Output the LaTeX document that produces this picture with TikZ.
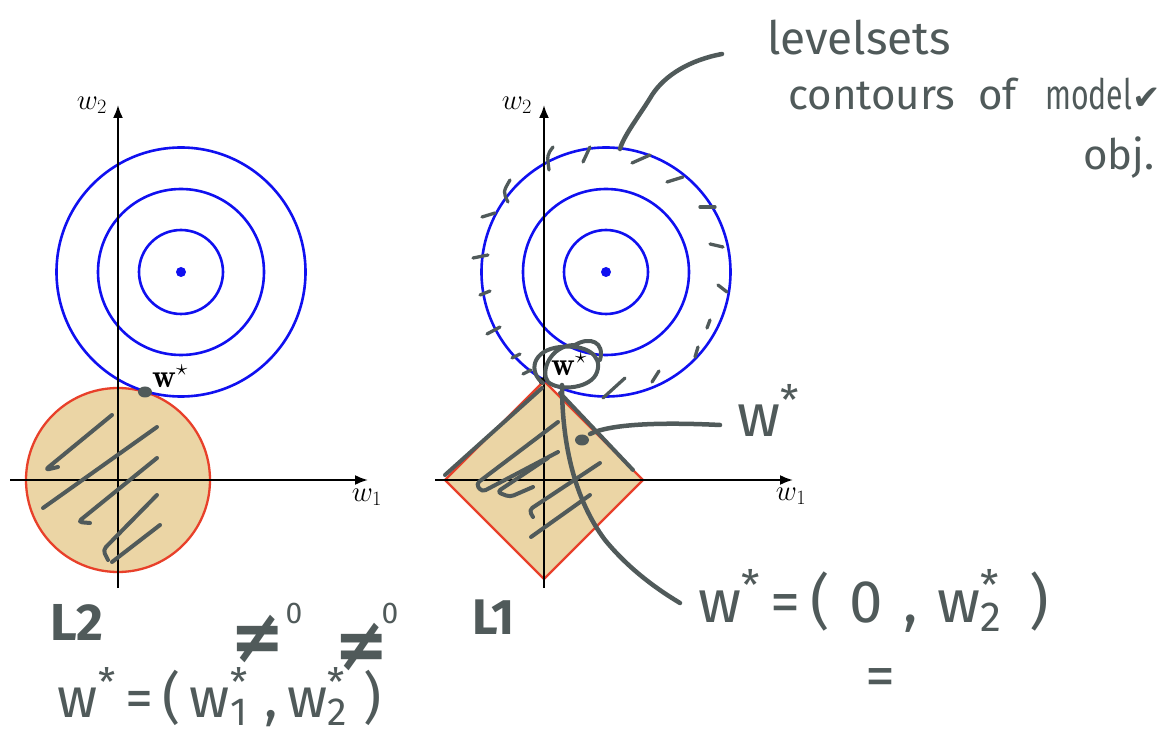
\RequirePackage{fix-cm}
\documentclass[tikz,border=0pt]{standalone}
\usepackage{fontspec}
\usepackage{graphicx}
\newfontfamily\hand{Fira Sans}
\newfontfamily\djv{DejaVu Sans}
\usetikzlibrary{arrows.meta}
\definecolor{hgray}{HTML}{505A5A}
\definecolor{tanfill}{HTML}{EBD5A5}
\definecolor{rededge}{HTML}{E8402A}
\definecolor{cblue}{HTML}{1010F0}
\newcommand\wsub[1]{w\makebox[0pt][l]{\textsuperscript{*}}\textsubscript{#1}\hspace{0.3em}}
\tikzset{
  axisline/.style={draw=black, line width=2.1pt, -{Latex[length=13pt,width=10pt]}},
  contour/.style={draw=cblue, line width=2.6pt},
  region/.style={fill=tanfill, draw=rededge, line width=2.3pt},
  axlab/.style={font=\fontsize{29}{31}\selectfont, inner sep=0pt},
  wlab/.style={font=\fontsize{33}{35}\selectfont, inner sep=0pt},
  hand/.style={draw=hgray, line width=4.5pt, line cap=round, line join=round},
  tick/.style={draw=hgray, line width=3.3pt, line cap=round},
  hatch/.style={draw=hgray, line width=4pt, line cap=round, line join=round, rounded corners=4pt},
  htext/.style={text=hgray, inner sep=0pt},
}
\begin{document}
\begin{tikzpicture}[x=1pt,y=-1pt]
\useasboundingbox (0,0) rectangle (1163,735);
\fill[white] (0,0) rectangle (1163,735);

% ---------- left plot (L2) ----------
\coordinate (oL) at (118,480);
\coordinate (cL) at (181,272);
\path[region] (oL) circle (92pt);
\draw[contour] (cL) circle (42pt) (cL) circle (83pt) (cL) circle (124.5pt);
\fill[cblue] (cL) circle (5pt);
\draw[axisline] (10,480) -- (368,480);
\draw[axisline] (118,588) -- (118,105);
\node[axlab] (lw2) at (92,105) {$w_2$};
\node[axlab] (lw1) at (367,497) {$w_1$};
\node[wlab] (lws) at (170,376) {$\mathbf{w}^{\star}$};

% ---------- right plot (L1) ----------
\coordinate (oR) at (544,480);
\coordinate (cR) at (606,272);
\path[region] (445,480) -- (544,381) -- (643,480) -- (544,579) -- cycle;
\draw[contour] (cR) circle (42pt) (cR) circle (83pt) (cR) circle (124.5pt);
\fill[cblue] (cR) circle (5pt);
\draw[axisline] (435,480) -- (793,480);
\draw[axisline] (544,588) -- (544,105);
\fill[black] (542,381) circle (3.5pt);
\node[axlab] (rw2) at (517,105) {$w_2$};
\node[axlab] (rw1) at (791,496) {$w_1$};
\node[wlab] (rws) at (569,364) {$\mathbf{w}^{\star}$};

% ---------- handwriting: left ----------
\fill[hgray] (145,392) ellipse [x radius=7pt, y radius=5.5pt];
\draw[hatch] (112,415) -- (45,470) -- (58,467);
\draw[hatch] (157,427) -- (43,508);
\draw[hatch] (157,458) -- (78,522) -- (90,523);
\draw[hatch] (157,495) -- (103,550) -- (108,560);
\draw[hatch] (160,525) -- (112,562);

% ---------- handwriting: right ----------
\draw[hand] (722,54) .. controls (690,60) and (665,75) .. (652,95) .. controls (640,115) and (624,135) .. (620,149);
\draw[tick] (553,147) .. controls (547,155) .. (549,170);
\draw[tick] (590,147) -- (583,162);
\draw[tick] (650,155) -- (632,163);
\draw[tick] (683,177) -- (667,182);
\draw[tick] (715,207) -- (700,207);
\draw[tick] (723,247) -- (710,244);
\draw[tick] (727,292) -- (718,285);
\draw[tick] (710,320) -- (707,328);
\draw[tick] (698,347) -- (695,357);
\draw[tick] (659,371) -- (652,382);
\draw[tick] (625,378) -- (603,398);
\draw[tick] (510,180) .. controls (503,192) .. (508,202);
\draw[tick] (495,213) -- (482,217);
\draw[tick] (488,255) -- (473,258);
\draw[tick] (490,291) -- (480,295);
\draw[tick] (500,327) -- (487,334);
\draw[tick] (520,354) -- (512,358);
\draw[tick] (531,370) -- (523,374);
% loop round w*
\draw[hand, line width=4pt] (543,383) .. controls (528,372) and (532,350) .. (560,347)
  .. controls (585,344) and (603,355) .. (597,372) .. controls (592,388) and (560,392) .. (548,382)
  .. controls (540,372) and (550,345) .. (575,345) .. controls (590,336) and (605,342) .. (600,360);
% edges of diamond
\draw[hand, line width=4pt] (445,475) -- (542,388);
\draw[hand, line width=4pt] (560,393) -- (633,470);
% zigzag hatching
\draw[hatch] (558,422) -- (476,484) -- (482,492) -- (558,452);
\draw[hatch] (548,458) -- (497,492) -- (510,497) -- (533,487);
\draw[hatch] (600,463) -- (529,510) -- (533,517);
\draw[hatch] (590,495) -- (531,537);
% long curve to formula
\draw[hand] (562,385) .. controls (562,445) and (575,500) .. (605,540) .. controls (628,568) and (655,588) .. (680,603);
% leader from w* label
\draw[hand] (720,425) .. controls (660,422) and (610,424) .. (590,434);
\fill[hgray] (582,440) ellipse [x radius=7pt, y radius=5.5pt];

% ---------- handwritten texts ----------
\node[htext, anchor=base west, font=\hand\fontsize{46}{50}\selectfont] (lvl) at (767,55) {levelsets};
\node[htext, anchor=base west, font=\hand\fontsize{42}{46}\selectfont] (cnt) at (788,110) {contours};
\node[htext, anchor=base west, font=\hand\fontsize{42}{46}\selectfont] (of) at (978,110) {of};
\node[htext, anchor=base west, font=\hand\fontsize{42}{46}\selectfont] (mdl) at (1045,110) {\scalebox{0.72}[1]{model}{\djv\fontsize{34}{36}\selectfont ✔}};
\node[htext, anchor=base west, font=\hand\fontsize{42}{46}\selectfont] (obj) at (1083,170) {obj.};
\node[htext, anchor=base west, font=\hand\bfseries\fontsize{52}{56}\selectfont] (L2) at (50,640) {L2};
\node[htext, anchor=base west, font=\hand\bfseries\fontsize{50}{54}\selectfont] (L1) at (472,634) {L1};
\node[htext, anchor=base, font=\djv\bfseries\fontsize{50}{54}\selectfont] (ne1) at (258,662) {\scalebox{1.3}[1.5]{≠}};
\node[htext, font=\hand\fontsize{30}{32}\selectfont] (z1) at (294,613) {0};
\node[htext, anchor=base, font=\djv\bfseries\fontsize{50}{54}\selectfont] (ne2) at (362,670) {\scalebox{1.3}[1.5]{≠}};
\node[htext, font=\hand\fontsize{30}{32}\selectfont] (z2) at (390,613) {0};
\node[htext, anchor=base, font=\hand\fontsize{56}{60}\selectfont] (f1) at (220,717) {w\textsuperscript{*}\,=\,(\,\wsub{1},\,\wsub{2})};
\node[htext, anchor=base west, font=\hand\fontsize{60}{64}\selectfont] (ws) at (737,437) {w\textsuperscript{*}};
\node[htext, anchor=base west, font=\hand\fontsize{60}{64}\selectfont] (f2) at (698,622) {w\textsuperscript{*}\,=\,(\,\,0\,\,,\,\,\wsub{2}\,)};
\node[htext, font=\hand\fontsize{60}{64}\selectfont] (eq) at (880,683) {=};
\end{tikzpicture}
\end{document}
